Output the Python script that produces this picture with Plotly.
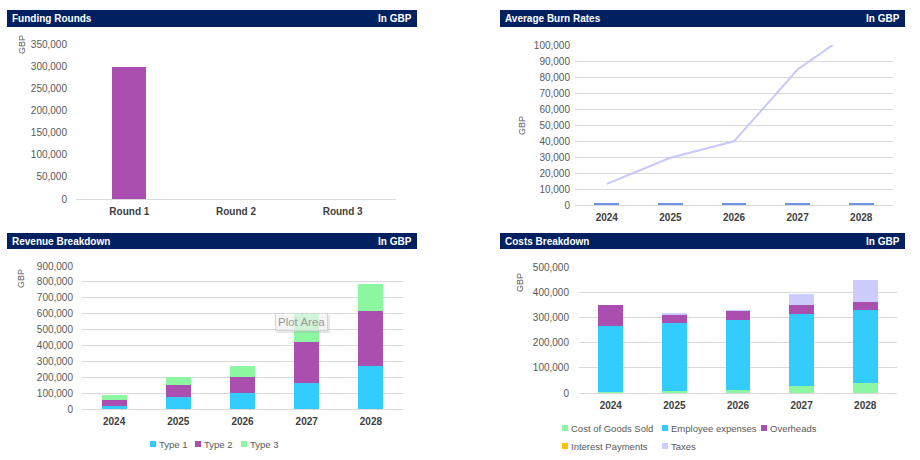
import plotly.graph_objects as go

# ---------------- data ----------------
rounds = ["Round 1", "Round 2", "Round 3"]
funding = [298000, 0, 0]

years = ["2024", "2025", "2026", "2027", "2028"]
burn_bars = [1100, 1100, 1100, 1100, 1100]
burn_line = [13200, 29500, 39800, 84700, 112500]

rev_type1 = [21000, 73000, 100000, 161000, 272000]
rev_type2 = [38000, 76000, 101000, 262000, 346000]
rev_type3 = [31000, 52000, 71000, 175000, 168000]

cost_cogs = [5000, 9000, 13000, 29000, 38000]
cost_employee = [262000, 270000, 278000, 283000, 291000]
cost_overheads = [82000, 33000, 36000, 37000, 33000]
cost_interest = [0, 0, 0, 0, 0]
cost_taxes = [0, 3000, 1000, 45000, 86000]

rev_names = ["Type 1", "Type 2", "Type 3"]
cost_names = ["Cost of Goods Sold", "Employee expenses", "Overheads",
              "Interest Payments", "Taxes"]

# ---------------- style ----------------
W, H = 920, 460
NAVY = "#002060"
PURPLE = "#AA4FB0"
CYAN = "#33CCFF"
GREEN = "#8CF7A0"
LAV = "#CCCCFF"
ORANGE = "#FFC000"
BLUEBAR = "#6F96E6"
LINE = "#C8C8FA"
GRID = "#D9D9D9"
TICK = "#595959"
CAT = "#404040"
FONT = "Liberation Sans"


def fx(px):
    return px / W


def fy(py):
    return 1 - py / H


fig = go.Figure()

# Funding rounds
fig.add_trace(go.Bar(x=rounds, y=funding, marker_color=PURPLE, width=0.32,
                     xaxis="x", yaxis="y", showlegend=False))

# Burn rates
fig.add_trace(go.Bar(x=years, y=burn_bars, marker_color=BLUEBAR, width=0.39,
                     xaxis="x2", yaxis="y2", showlegend=False))
fig.add_trace(go.Scatter(x=years, y=burn_line, mode="lines",
                         line=dict(color=LINE, width=2),
                         xaxis="x2", yaxis="y2", showlegend=False))

# Revenue breakdown
for name, vals, col in zip(rev_names, [rev_type1, rev_type2, rev_type3],
                           [CYAN, PURPLE, GREEN]):
    fig.add_trace(go.Bar(x=years, y=vals, name=name, marker_color=col,
                         width=0.39, xaxis="x3", yaxis="y3", showlegend=False))

# Costs breakdown
for name, vals, col in zip(cost_names,
                           [cost_cogs, cost_employee, cost_overheads,
                            cost_interest, cost_taxes],
                           [GREEN, CYAN, PURPLE, ORANGE, LAV]):
    fig.add_trace(go.Bar(x=years, y=vals, name=name, marker_color=col,
                         width=0.39, xaxis="x4", yaxis="y4", showlegend=False))

fig.update_traces(marker_line_width=0, selector=dict(type="bar"))


def xax(x0, x1, anchor):
    return dict(domain=[fx(x0), fx(x1)], anchor=anchor, type="category",
                showgrid=False, showline=True, linecolor=GRID, linewidth=1,
                ticks="", zeroline=False, fixedrange=True, automargin=False,
                tickfont=dict(family=FONT, size=10, color=CAT, weight="bold"),
                ticklabelstandoff=3)


def yax(y0, y1, anchor, rmax, dtick, grid, standoff):
    return dict(domain=[fy(y0), fy(y1)], anchor=anchor, range=[0, rmax],
                dtick=dtick, tickformat=",d", showgrid=grid, gridcolor=GRID,
                gridwidth=1, zeroline=False, showline=False, ticks="",
                fixedrange=True, ticklabelstandoff=standoff, automargin=False,
                tickfont=dict(family=FONT, size=10, color=TICK))


layout = dict(
    width=W, height=H, autosize=False, margin=dict(l=0, r=0, t=0, b=0, pad=0),
    paper_bgcolor="white", plot_bgcolor="white", barmode="stack",
    showlegend=False, font=dict(family=FONT),
    xaxis=xax(76, 396, "y"),
    yaxis=yax(199, 44, "x", 350000, 50000, False, 8),
    xaxis2=xax(575, 893, "y2"),
    yaxis2=yax(205, 45, "x2", 100000, 10000, True, 4),
    xaxis3=xax(82, 403, "y3"),
    yaxis3=yax(409, 266, "x3", 900000, 100000, True, 8),
    xaxis4=xax(579, 897, "y4"),
    yaxis4=yax(393, 267, "x4", 500000, 100000, True, 9),
)
fig.update_layout(**layout)

shapes = []
annotations = []

# headers
headers = [
    (7, 417, 10, 27, "Funding Rounds"),
    (500, 905, 10, 27, "Average Burn Rates"),
    (7, 417, 233, 249, "Revenue Breakdown"),
    (500, 905, 233, 249, "Costs Breakdown"),
]
for x0, x1, y0, y1, title in headers:
    shapes.append(dict(type="rect", xref="paper", yref="paper",
                       x0=fx(x0), x1=fx(x1), y0=fy(y1), y1=fy(y0),
                       fillcolor=NAVY, line=dict(width=0), layer="below"))
    annotations.append(dict(xref="paper", yref="paper", x=fx(x0 + 3),
                            y=fy((y0 + y1) / 2), xanchor="left",
                            yanchor="middle", showarrow=False, text=title,
                            font=dict(family=FONT, size=10, color="white",
                                      weight="bold")))
    annotations.append(dict(xref="paper", yref="paper", x=fx(x1 - 3),
                            y=fy((y0 + y1) / 2), xanchor="right",
                            yanchor="middle", showarrow=False, text="In GBP",
                            font=dict(family=FONT, size=10, color="white",
                                      weight="bold")))

# GBP axis titles
for x, y in [(22, 45), (522, 126), (21, 279), (520, 283)]:
    annotations.append(dict(xref="paper", yref="paper", x=fx(x), y=fy(y),
                            xanchor="center", yanchor="middle",
                            showarrow=False, text="GBP", textangle=-90,
                            font=dict(family=FONT, size=9, color=TICK)))


def legend_item(xl, yc, color, text):
    shapes.append(dict(type="rect", xref="paper", yref="paper",
                       x0=fx(xl), x1=fx(xl + 6), y0=fy(yc + 3), y1=fy(yc - 3),
                       fillcolor=color, line=dict(width=0)))
    annotations.append(dict(xref="paper", yref="paper", x=fx(xl + 7),
                            y=fy(yc), xanchor="left", yanchor="middle",
                            showarrow=False, text=text,
                            font=dict(family=FONT, size=9.5, color=TICK)))


for xl, col, name in zip([150, 195, 241], [CYAN, PURPLE, GREEN], rev_names):
    legend_item(xl, 444, col, name)

cost_pos = [(562, 428), (662, 428), (761, 428), (562, 446), (662, 446)]
for (xl, yc), col, name in zip(cost_pos, [GREEN, CYAN, PURPLE, ORANGE, LAV],
                               cost_names):
    legend_item(xl, yc, col, name)

# hover tooltip artefact visible in the reference
shapes.append(dict(type="rect", xref="paper", yref="paper",
                   x0=fx(276), x1=fx(330), y0=fy(333), y1=fy(315),
                   fillcolor="rgba(160,160,160,0.25)", line=dict(width=0)))
annotations.append(dict(xref="paper", yref="paper", x=fx(301), y=fy(322),
                        xanchor="center", yanchor="middle", showarrow=False,
                        text="Plot Area", bgcolor="rgba(255,255,255,0.6)",
                        bordercolor="rgba(210,210,210,0.9)", borderwidth=1,
                        borderpad=2,
                        font=dict(family=FONT, size=11.5, color="#9A9A9A")))

fig.update_layout(shapes=shapes, annotations=annotations)

fig.write_html(
    "out.html",
    config={"displayModeBar": False},
    post_script="document.body.style.margin='0';document.body.style.overflow='hidden';",
)
